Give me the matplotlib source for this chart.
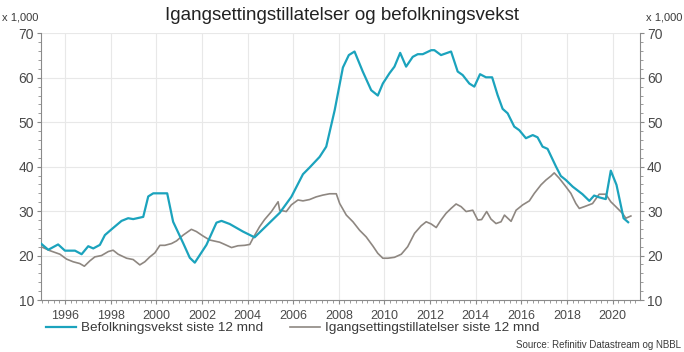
import matplotlib
matplotlib.use("Agg")
import matplotlib.pyplot as plt
from matplotlib.ticker import MultipleLocator, FixedLocator

plt.rcParams['font.family'] = ['Liberation Sans', 'DejaVu Sans']

# Befolkningsvekst siste 12 mnd (x 1,000)
pop_t = [1994.95, 1995.27, 1995.7, 1996.0, 1996.44, 1996.73, 1997.02, 1997.24, 1997.53, 1997.75,
         1998.04, 1998.48, 1998.77, 1998.99, 1999.43, 1999.65, 1999.87, 2000.48, 2000.74, 2001.18,
         2001.47, 2001.69, 2002.2, 2002.64, 2002.86, 2003.22, 2003.8, 2004.31, 2004.97, 2005.41,
         2005.92, 2006.43, 2006.72, 2007.16, 2007.45, 2007.82, 2008.18, 2008.44, 2008.69, 2009.05,
         2009.42, 2009.71, 2009.93, 2010.22, 2010.44, 2010.69, 2010.95, 2011.24, 2011.46, 2011.68,
         2012.05, 2012.19, 2012.48, 2012.92, 2013.21, 2013.43, 2013.72, 2013.94, 2014.19, 2014.45,
         2014.72, 2014.96, 2015.18, 2015.4, 2015.69, 2015.91, 2016.2, 2016.5, 2016.71, 2016.93,
         2017.15, 2017.52, 2017.73, 2017.95, 2018.25, 2018.68, 2018.98, 2019.19, 2019.41, 2019.7,
         2019.92, 2020.17, 2020.48, 2020.68]
pop_v = [22.7, 21.3, 22.5, 21.1, 21.1, 20.3, 22.1, 21.6, 22.4, 24.6,
         25.9, 27.8, 28.4, 28.2, 28.7, 33.3, 34.0, 34.0, 27.6, 22.8,
         19.5, 18.4, 22.4, 27.4, 27.8, 27.1, 25.4, 24.1, 27.4, 29.6,
         33.2, 38.3, 39.8, 42.2, 44.5, 52.7, 62.3, 65.1, 65.9, 61.4,
         57.2, 56.0, 58.7, 61.0, 62.5, 65.6, 62.5, 64.7, 65.3, 65.3,
         66.2, 66.2, 65.1, 65.9, 61.4, 60.6, 58.7, 58.0, 60.8, 60.1,
         60.1, 56.1, 53.0, 52.0, 49.0, 48.2, 46.4, 47.1, 46.6, 44.5,
         44.0, 40.0, 37.9, 37.0, 35.5, 33.8, 32.3, 33.5, 33.1, 32.7,
         39.1, 35.9, 28.4, 27.5]

# Igangsettingstillatelser siste 12 mnd (x 1,000)
bld_t = [1994.95, 1995.34, 1995.78, 1996.07, 1996.36, 1996.65, 1996.85, 1997.09, 1997.31, 1997.6,
         1997.9, 1998.11, 1998.33, 1998.7, 1998.99, 1999.28, 1999.5, 1999.72, 1999.94, 2000.16,
         2000.38, 2000.67, 2000.89, 2001.18, 2001.54, 2001.76, 2002.05, 2002.34, 2002.78, 2003.0,
         2003.3, 2003.58, 2003.88, 2004.1, 2004.24, 2004.53, 2004.75, 2005.05, 2005.34, 2005.41,
         2005.7, 2005.92, 2006.21, 2006.43, 2006.72, 2007.01, 2007.3, 2007.6, 2007.89, 2008.04,
         2008.33, 2008.62, 2008.91, 2009.2, 2009.5, 2009.71, 2009.93, 2010.15, 2010.44, 2010.74,
         2011.02, 2011.32, 2011.61, 2011.83, 2012.05, 2012.27, 2012.48, 2012.7, 2012.92, 2013.14,
         2013.36, 2013.58, 2013.87, 2014.09, 2014.26, 2014.48, 2014.67, 2014.89, 2015.11, 2015.26,
         2015.55, 2015.77, 2016.06, 2016.35, 2016.57, 2016.86, 2017.08, 2017.3, 2017.44, 2017.66,
         2017.95, 2018.17, 2018.39, 2018.54, 2018.76, 2019.12, 2019.41, 2019.7, 2019.92, 2020.14,
         2020.43, 2020.58, 2020.8]
bld_v = [22.0, 21.1, 20.3, 19.2, 18.6, 18.2, 17.6, 18.8, 19.7, 20.0,
         20.9, 21.2, 20.3, 19.4, 19.1, 17.9, 18.6, 19.7, 20.6, 22.3,
         22.3, 22.7, 23.3, 24.6, 25.9, 25.4, 24.4, 23.5, 23.0, 22.5,
         21.8, 22.2, 22.3, 22.5, 23.9, 26.5, 28.1, 29.9, 32.1, 30.2,
         29.9, 31.4, 32.5, 32.3, 32.6, 33.2, 33.6, 33.9, 33.9, 31.7,
         29.1, 27.6, 25.7, 24.2, 22.1, 20.5, 19.4, 19.4, 19.6, 20.3,
         22.0, 25.0, 26.7, 27.6, 27.1, 26.3, 28.0, 29.5, 30.6, 31.6,
         31.0, 29.9, 30.2, 28.0, 28.1, 29.9, 28.2, 27.2, 27.6, 29.1,
         27.7, 30.2, 31.4, 32.3, 34.0, 35.9, 37.0, 37.9, 38.6, 37.4,
         35.5, 34.0, 31.7, 30.6, 31.0, 31.7, 33.8, 33.8, 32.1, 31.0,
         29.5, 28.4, 28.9]

year_ticks = [1996, 1998, 2000, 2002, 2004, 2006, 2008, 2010, 2012, 2014, 2016, 2018, 2020]
year_labels = [str(y) for y in year_ticks]

blue = '#1ba3bd'
gray = '#8e8781'
tick_col = '#8a8a8a'
text_col = '#3a3a3a'

fig = plt.figure(figsize=(6.84, 3.52), dpi=100)
ax = fig.add_axes([41/684, 1 - 300/352, (640 - 41)/684, (300 - 33.3)/352])
ax.set_xlim(1994.95, 2021.2)
ax.set_ylim(10, 70)

ax.plot(pop_t, pop_v, color=blue, lw=1.6, label='Befolkningsvekst siste 12 mnd', zorder=3)
ax.plot(bld_t, bld_v, color=gray, lw=1.2, label='Igangsettingstillatelser siste 12 mnd', zorder=2)

ax.xaxis.set_major_locator(FixedLocator(year_ticks))
ax.set_xticklabels(year_labels)
ax.xaxis.set_minor_locator(MultipleLocator(0.25))
ax.yaxis.set_major_locator(MultipleLocator(10))
ax.yaxis.set_minor_locator(MultipleLocator(2))

ax.grid(True, which='major', color='#e8e8e8', lw=0.8)
ax.set_axisbelow(True)

ax.spines['top'].set_visible(False)
for s in ['left', 'right', 'bottom']:
    ax.spines[s].set_color(tick_col)
    ax.spines[s].set_linewidth(0.8)

ax.tick_params(axis='both', which='major', colors=tick_col, labelcolor='#4a4a4a', labelsize=9, length=3, width=0.8)
ax.tick_params(axis='both', which='minor', colors=tick_col, length=2, width=0.6)
ax.tick_params(axis='y', which='both', left=True, right=True, labelleft=True, labelright=True)
ax.tick_params(axis='y', labelsize=10, pad=2)
ax.tick_params(axis='x', pad=4)

fig.text(0.5, 1 - 15/352, 'Igangsettingstillatelser og befolkningsvekst', ha='center', va='center',
         fontsize=13.5, color='#222222')
fig.text(2/684, 1 - 18/352, 'x 1,000', ha='left', va='center', fontsize=8, color=text_col)
fig.text(682/684, 1 - 18/352, 'x 1,000', ha='right', va='center', fontsize=8, color=text_col)

fig.legend(loc='center left', bbox_to_anchor=(34/684, 1 - 328/352), ncol=2, frameon=False,
           fontsize=9.7, handlelength=2.2, columnspacing=2.0, handletextpad=0.4,
           labelcolor=text_col)
fig.text(681/684, 1 - 345/352, 'Source: Refinitiv Datastream og NBBL', ha='right', va='center',
         fontsize=7, color=text_col)

fig.savefig('out.png', dpi=100)
